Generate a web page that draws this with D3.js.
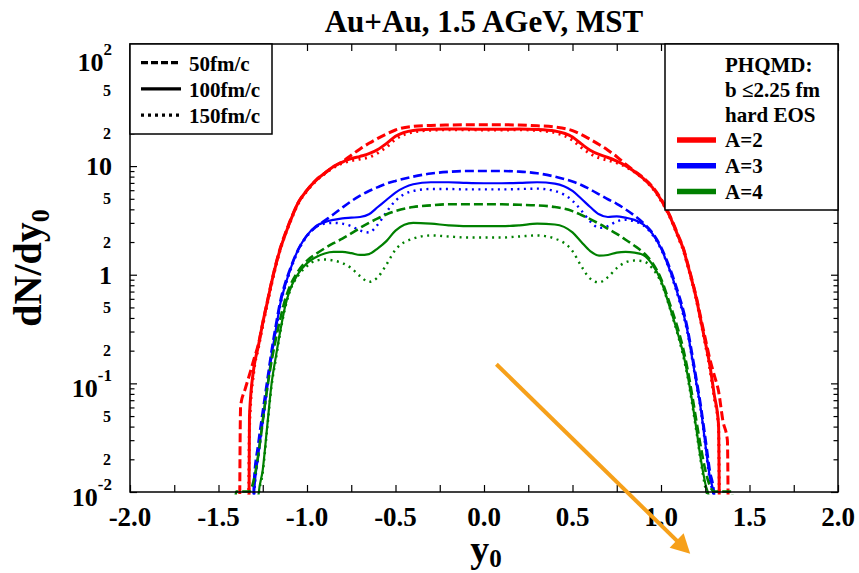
<!DOCTYPE html>
<html><head><meta charset="utf-8">
<script src="https://cdn.jsdelivr.net/npm/d3@7"></script>
<style>
body{margin:0;background:#fff}
svg{display:block}
text{font-family:"Liberation Serif","Times New Roman",serif;font-weight:bold;fill:#000}
</style>
</head><body>
<svg id="c" width="859" height="573"></svg>
<script>
// ---------------- data ----------------
const y0 = [
 -1.45,-1.40,-1.375,-1.35,-1.325,-1.30,-1.275,-1.25,-1.225,-1.20,
 -1.175,-1.15,-1.125,-1.10,-1.05,-1.00,-0.95,-0.90,-0.85,-0.80,
 -0.75,-0.70,-0.65,-0.60,-0.55,-0.50,-0.40,-0.30,-0.20,-0.10,
 0.00,
 0.10,0.20,0.30,0.40,0.50,0.55,0.60,0.65,0.70,0.75,
 0.80,0.85,0.90,0.95,1.00,1.05,1.10,1.125,1.15,1.175,
 1.20,1.225,1.25,1.275,1.30,1.325,1.35,1.375,1.40,1.45
];
// A=2
const a2_50 = [
 0,0,0.062,0.088,0.12,0.166,0.228,0.36,0.56,0.86,
 1.27,1.78,2.35,3.0,4.6,6.0,7.4,8.6,9.9,11.0,
 12.6,14.4,16.2,18.0,19.8,21.5,23.2,23.7,23.9,24.0,
 24.0,
 24.0,23.9,23.5,22.9,21.2,19.5,17.6,15.8,14.0,12.2,
 10.4,9.0,7.8,6.5,5.0,3.5,2.25,1.78,1.28,0.9,
 0.62,0.40,0.26,0.17,0.12,0.085,0.045,0.03,0,0
];
const a2_100 = [
 0,0,0,0,0.05,0.14,0.22,0.36,0.55,0.85,
 1.25,1.75,2.3,2.95,4.6,6.0,7.4,8.6,9.9,10.9,
 11.7,12.3,13.0,14.2,16.2,18.8,21.3,21.8,21.9,21.9,
 21.8,
 21.8,21.9,21.7,21.0,18.5,16.0,14.0,12.8,12.0,11.1,
 10.1,8.9,7.7,6.4,4.9,3.45,2.2,1.75,1.25,0.88,
 0.6,0.38,0.24,0.15,0.08,0.042,0,0,0,0
];
const a2_150 = [
 0,0,0,0,0.04,0.13,0.21,0.34,0.53,0.82,
 1.22,1.72,2.28,2.9,4.5,5.9,7.3,8.5,9.7,10.6,
 11.2,11.6,12.1,13.2,15.0,17.6,20.6,21.4,21.6,21.6,
 21.5,
 21.5,21.6,21.3,20.3,17.3,14.8,13.0,11.9,11.3,10.7,
 9.9,8.8,7.6,6.3,4.8,3.4,2.15,1.7,1.22,0.86,
 0.58,0.37,0.23,0.14,0.075,0.04,0,0,0,0
];
// A=3
const a3_50 = [
 0,0,0,0,0,0.012,0.028,0.055,0.105,0.2,
 0.35,0.58,0.82,1.08,1.7,2.3,2.75,3.15,3.6,4.15,
 4.75,5.35,5.9,6.4,6.9,7.3,8.0,8.55,8.85,9.0,
 9.0,
 9.0,8.9,8.6,8.0,7.2,6.7,6.1,5.5,4.95,4.5,
 4.0,3.5,3.0,2.45,1.8,1.15,0.66,0.48,0.32,0.19,
 0.11,0.062,0.032,0.016,0.0095,0,0,0,0,0
];
const a3_100 = [
 0,0,0,0,0,0.009,0.022,0.045,0.09,0.18,
 0.32,0.55,0.78,1.05,1.7,2.3,2.8,3.05,3.2,3.3,
 3.35,3.4,3.6,4.2,4.9,5.7,6.8,7.1,7.1,7.0,
 6.95,
 6.95,7.0,7.1,6.9,5.9,5.0,4.2,3.6,3.4,3.45,
 3.35,3.2,2.9,2.4,1.75,1.1,0.62,0.45,0.3,0.175,
 0.1,0.058,0.028,0.014,0.009,0,0,0,0,0
];
const a3_150 = [
 0,0,0,0,0,0.0085,0.021,0.043,0.088,0.175,
 0.31,0.53,0.76,1.02,1.65,2.25,2.75,2.95,3.0,2.95,
 2.8,2.55,2.45,2.9,3.8,4.8,5.9,6.15,6.15,6.1,
 6.1,
 6.1,6.15,6.2,5.9,4.8,3.9,3.1,2.7,2.8,3.1,
 3.2,3.1,2.85,2.35,1.72,1.08,0.6,0.43,0.29,0.17,
 0.097,0.056,0.027,0.013,0.0085,0,0,0,0,0
];
// A=4
const a4_50 = [
 0,0.0101,0.0101,0.0101,0.0101,0.013,0.022,0.045,0.09,0.16,
 0.26,0.4,0.58,0.76,1.08,1.35,1.55,1.75,1.95,2.15,
 2.4,2.7,3.0,3.3,3.6,3.85,4.2,4.35,4.45,4.45,
 4.45,
 4.45,4.4,4.35,4.2,3.85,3.55,3.25,2.95,2.65,2.38,
 2.1,1.85,1.6,1.3,0.92,0.54,0.3,0.21,0.135,0.08,
 0.045,0.026,0.016,0.0115,0.0101,0.0101,0.0101,0.0101,0.0101,0
];
const a4_100 = [
 0,0,0,0,0,0,0.009,0.016,0.04,0.1,
 0.18,0.31,0.5,0.7,1.02,1.28,1.45,1.57,1.62,1.62,
 1.58,1.52,1.55,1.75,2.05,2.55,3.0,2.95,2.85,2.8,
 2.8,
 2.8,2.85,2.95,2.9,2.45,2.0,1.65,1.5,1.52,1.6,
 1.62,1.6,1.52,1.25,0.88,0.5,0.27,0.19,0.12,0.07,
 0.038,0.02,0.012,0.008,0,0,0,0,0,0
];
const a4_150 = [
 0,0,0,0,0,0,0.0085,0.015,0.038,0.095,
 0.17,0.3,0.48,0.68,0.98,1.2,1.35,1.38,1.35,1.28,
 1.15,0.97,0.86,0.95,1.25,1.7,2.15,2.3,2.25,2.2,
 2.2,
 2.2,2.25,2.3,2.15,1.65,1.2,0.92,0.85,0.95,1.15,
 1.3,1.35,1.33,1.15,0.85,0.49,0.26,0.18,0.115,0.066,
 0.036,0.019,0.011,0.0075,0,0,0,0,0,0
];

const timeLabels = ["50fm/c","100fm/c","150fm/c"];
const massLabels = ["A=2","A=3","A=4"];
const massColors = ["#ff0000","#0000ff","#008000"];
const infoLines = ["PHQMD:","b \u22642.25 fm","hard EOS"];
const xTicks = [-2,-1.75,-1.5,-1.25,-1,-0.75,-0.5,-0.25,0,0.25,0.5,0.75,1,1.25,1.5,1.75,2];
const xLabelValues = [-2,-1.5,-1,-0.5,0,0.5,1,1.5,2];
const xLabels = ["-2.0","-1.5","-1.0","-0.5","0.0","0.5","1.0","1.5","2.0"];
const yMajor = [0.01,0.1,1,10,100];
const yMajorBase = ["10","10","1","10","10"];
const yMajorExp = ["-2","-1","","","2"];
const yMinorLabelValues = [0.02,0.05,0.2,0.5,2,5,20,50];
const yMinorLabels = ["2","5","2","5","2","5","2","5"];
const titleText = "Au+Au, 1.5 AGeV, MST";
const arrowFrom = [0.07, 0.15];
const arrowTo = [1.165, 0.0027];

const series = [
  {v:a2_50, m:0, t:0},{v:a2_100, m:0, t:1},{v:a2_150, m:0, t:2},
  {v:a3_50, m:1, t:0},{v:a3_100, m:1, t:1},{v:a3_150, m:1, t:2},
  {v:a4_50, m:2, t:0},{v:a4_100, m:2, t:1},{v:a4_150, m:2, t:2}
];

// ---------------- layout ----------------
const L=130, R=838, T=44, B=492;
const svg = d3.select("#c");
const x = d3.scaleLinear([-2,2],[L,R]);
const y = d3.scaleLog([0.01,133],[B,T]);

svg.append("defs").append("clipPath").attr("id","clip")
  .append("rect").attr("x",L).attr("y",T).attr("width",R-L).attr("height",B-T+2.5);

// curves
const dashes = ["9,4", null, "2,4.5"];
const widths = [[3,3,3],[2.6,2.2,2.4],[2.6,2.2,2.4]];
const line = d3.line()
  .x(d=>x(d[0]))
  .y(d=>y(d[1]>0?d[1]:1e-9))
  .curve(d3.curveMonotoneX);
const gc = svg.append("g").attr("clip-path","url(#clip)");
series.forEach(s=>{
  gc.append("path")
    .attr("d", line(d3.zip(y0, s.v)))
    .attr("fill","none")
    .attr("stroke", massColors[s.m])
    .attr("stroke-width", widths[s.m][s.t])
    .attr("stroke-dasharray", dashes[s.t])
    .attr("stroke-linejoin","round");
});

// axes ticks
function styleAxis(g){ g.select(".domain").remove(); g.selectAll("line").attr("stroke","#000").attr("stroke-width",1.2); g.selectAll("text").remove(); }
svg.append("g").attr("transform",`translate(0,${B})`).call(d3.axisBottom(x).tickValues(xTicks).tickSize(-7).tickFormat("")).call(styleAxis);
svg.append("g").attr("transform",`translate(0,${T})`).call(d3.axisTop(x).tickValues(xTicks).tickSize(-7).tickFormat("")).call(styleAxis);
const yAll = y.ticks();
const yMin = yAll.filter(v=>Math.abs(Math.log10(v)-Math.round(Math.log10(v)))>1e-6);
svg.append("g").attr("transform",`translate(${L},0)`).call(d3.axisLeft(y).tickValues(yMajor).tickSize(-7).tickFormat("")).call(styleAxis);
svg.append("g").attr("transform",`translate(${L},0)`).call(d3.axisLeft(y).tickValues(yMin).tickSize(-4.5).tickFormat("")).call(styleAxis);
svg.append("g").attr("transform",`translate(${R},0)`).call(d3.axisRight(y).tickValues(yMajor).tickSize(-7).tickFormat("")).call(styleAxis);
svg.append("g").attr("transform",`translate(${R},0)`).call(d3.axisRight(y).tickValues(yMin).tickSize(-4.5).tickFormat("")).call(styleAxis);

// frame
svg.append("rect").attr("x",L).attr("y",T).attr("width",R-L).attr("height",B-T)
  .attr("fill","none").attr("stroke","#000").attr("stroke-width",1.5);

// x tick labels
svg.append("g").selectAll("text").data(xLabelValues).join("text")
  .attr("x",d=>x(d)).attr("y",B+34).attr("text-anchor","middle")
  .attr("font-size",27).text((d,i)=>xLabels[i]);

// y tick labels
yMajor.forEach((v,i)=>{
  const hasExp = yMajorExp[i]!=="";
  const t = svg.append("text").attr("x",112).attr("y",y(v)+(hasExp?14:9))
    .attr("text-anchor","end").attr("font-size",26);
  t.append("tspan").text(yMajorBase[i]);
  if(hasExp) t.append("tspan").attr("font-size",17).attr("dy",-16).text(yMajorExp[i]);
});
yMinorLabelValues.forEach((v,i)=>{
  svg.append("text").attr("x",111).attr("y",y(v)+5.5).attr("text-anchor","end")
    .attr("font-size",16).text(yMinorLabels[i]);
});

// axis titles
const yt = svg.append("text").attr("transform",`translate(41,${268}) rotate(-90)`)
  .attr("text-anchor","middle").attr("font-size",40);
yt.append("tspan").text("dN/dy");
yt.append("tspan").attr("font-size",26).attr("dy",8).text("0");
const xt = svg.append("text").attr("x",486).attr("y",562).attr("text-anchor","middle").attr("font-size",38);
xt.append("tspan").text("y");
xt.append("tspan").attr("font-size",25).attr("dy",5).text("0");

// title
svg.append("text").attr("x",(L+R)/2).attr("y",32).attr("text-anchor","middle")
  .attr("font-size",31).text(titleText);

// left legend (time)
const lg = svg.append("g");
lg.append("rect").attr("x",L).attr("y",T).attr("width",142).attr("height",90)
  .attr("fill","#fff").attr("stroke","#000").attr("stroke-width",1.5);
const legDash = ["7,3", null, "3,4"];
timeLabels.forEach((s,i)=>{
  const yy = 62.7 + i*26.2;
  lg.append("line").attr("x1",141).attr("x2",181).attr("y1",yy).attr("y2",yy)
    .attr("stroke","#000").attr("stroke-width",3.3).attr("stroke-dasharray",legDash[i]);
  lg.append("text").attr("x",189).attr("y",yy+8).attr("font-size",21).text(s);
});

// right legend (mass)
const rg = svg.append("g");
rg.append("rect").attr("x",665).attr("y",T).attr("width",R-665).attr("height",166)
  .attr("fill","#fff").attr("stroke","#000").attr("stroke-width",1.5);
infoLines.forEach((s,i)=>{
  rg.append("text").attr("x",725).attr("y",72+i*24.9).attr("font-size",21).text(s);
});
massLabels.forEach((s,i)=>{
  const yy = 140 + i*25.8;
  rg.append("line").attr("x1",677).attr("x2",716).attr("y1",yy).attr("y2",yy)
    .attr("stroke",massColors[i]).attr("stroke-width",5.5);
  rg.append("text").attr("x",725).attr("y",yy+7).attr("font-size",21).text(s);
});

// orange arrow annotation
const ax1=x(arrowFrom[0]), ay1=y(arrowFrom[1]), ax2=x(arrowTo[0]), ay2=y(arrowTo[1]);
const ang = Math.atan2(ay2-ay1, ax2-ax1), hl=19, hw=10;
const bx = ax2-hl*Math.cos(ang), by = ay2-hl*Math.sin(ang);
svg.append("line").attr("x1",ax1).attr("y1",ay1).attr("x2",bx+2*Math.cos(ang)).attr("y2",by+2*Math.sin(ang))
  .attr("stroke","#f6a01a").attr("stroke-width",4);
svg.append("path").attr("d",`M${ax2},${ay2}L${bx-hw*Math.sin(ang)},${by+hw*Math.cos(ang)}L${bx+hw*Math.sin(ang)},${by-hw*Math.cos(ang)}Z`)
  .attr("fill","#f6a01a");
</script>
</body></html>
